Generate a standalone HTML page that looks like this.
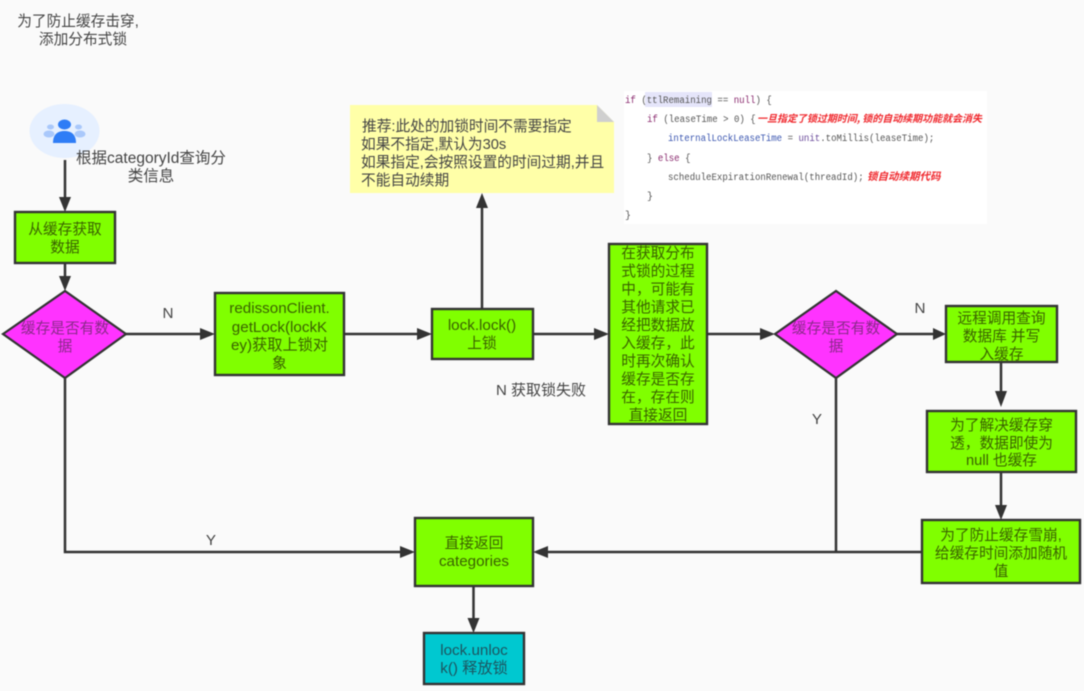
<!DOCTYPE html>
<html lang="zh">
<head>
<meta charset="utf-8">
<style>
html,body{margin:0;padding:0;background:#fafafa;}
body{width:1084px;height:691px;overflow:hidden;}
svg{display:block;filter:blur(0.45px);}
text{font-family:"Liberation Sans","Noto Sans CJK SC",sans-serif;font-size:14.7px;fill:#333;text-anchor:middle;}
.g{fill:#3a6200;}
.l{font-size:15.2px;}
.t{fill:#444;}
.s{text-anchor:start;}
.m{font-family:"Liberation Mono","Noto Sans CJK SC",monospace;font-size:10px;text-anchor:start;}
.r{fill:#f0282d;font-weight:bold;font-style:italic;font-size:10px;text-anchor:start;font-family:"Noto Sans CJK SC",sans-serif;}
.p{fill:#8a2a8a;}
.c{fill:#1c5560;}
.box{fill:#80ff00;stroke:#333;stroke-width:2.4;}
.dia{fill:#ff33ff;stroke:#333;stroke-width:2.2;}
.ln{fill:none;stroke:#333;stroke-width:2.5;}
.ah{fill:#333;}
</style>
</head>
<body>
<svg width="1084" height="691" viewBox="0 0 1084 691" xmlns="http://www.w3.org/2000/svg">
<rect width="1084" height="691" fill="#fafafa"/>

<text class="t" x="78" y="26">为了防止缓存击穿,</text>
<text class="t" x="83" y="44">添加分布式锁</text>

<!-- avatar -->
<ellipse cx="64.500" cy="131" rx="35" ry="27" fill="#e6f0ff"/>
<ellipse cx="50.500" cy="127" rx="3.500" ry="2.500" fill="#a9c8fb"/>
<ellipse cx="78.500" cy="127" rx="3.500" ry="2.500" fill="#a9c8fb"/>
<ellipse cx="49" cy="134" rx="5.500" ry="3.500" fill="#a9c8fb"/>
<ellipse cx="80" cy="134" rx="5.500" ry="3.500" fill="#a9c8fb"/>
<ellipse cx="64.500" cy="124.500" rx="6.500" ry="5" fill="#2f7df6"/>
<path d="M53 143 C53 134 58 131 64.500 131 C71 131 76 134 76 143 Z" fill="#2f7df6"/>

<text class="t" style="font-size:15.500px" x="151" y="163">根据categoryId查询分</text>
<text class="t" style="font-size:15.500px" x="151" y="181">类信息</text>

<!-- connectors -->
<path class="ln" d="M65 160V200"/>
<path class="ah" d="M59 197H71L65 212Z"/>
<path class="ln" d="M65 263V280"/>
<path class="ah" d="M59 276H71L65 291Z"/>
<path class="ln" d="M126 334H205"/>
<path class="ah" d="M200 328V340L215 334Z"/>
<path class="ln" d="M344 334H422"/>
<path class="ah" d="M417 328V340L432 334Z"/>
<path class="ln" d="M482 308V205"/>
<path class="ah" d="M476 208H488L482 193Z"/>
<path class="ln" d="M533 334H599"/>
<path class="ah" d="M594 328V340L609 334Z"/>
<path class="ln" d="M707 334H765"/>
<path class="ah" d="M760 328V340L775 334Z"/>
<path class="ln" d="M897 334H936"/>
<path class="ah" d="M933 328V340L946 334Z"/>
<path class="ln" d="M1001 362V395"/>
<path class="ah" d="M995 391H1007L1001 407Z"/>
<path class="ln" d="M1001 472V510"/>
<path class="ah" d="M995 505H1007L1001 520Z"/>
<path class="ln" d="M922 552H545"/>
<path class="ah" d="M548 546V558L533 552Z"/>
<path class="ln" d="M836 378V552"/>
<path class="ln" d="M65 378V552H405"/>
<path class="ah" d="M400 546V558L415 552Z"/>
<path class="ln" d="M473.500 586V622"/>
<path class="ah" d="M467.500 618H479.500L473.500 633Z"/>

<!-- labels -->
<text class="t l" x="168" y="318">N</text>
<text class="t l" x="211" y="545">Y</text>
<text class="t" style="font-size:15px" x="541" y="395">N 获取锁失败</text>
<text class="t l" x="817" y="424">Y</text>
<text class="t l" x="920" y="313">N</text>

<!-- note -->
<path d="M350 105H597L614 122V193H350Z" fill="#ffffa8"/>
<path d="M597 105L614 122H597Z" fill="#cfcfcf"/>
<text class="t s" x="362" y="131">推荐:此处的加锁时间不需要指定</text>
<text class="t s" x="361" y="149">如果不指定,默认为30s</text>
<text class="t s" x="361" y="167">如果指定,会按照设置的时间过期,并且</text>
<text class="t s" x="361" y="185">不能自动续期</text>

<!-- code -->
<rect x="624" y="91" width="363" height="133" fill="#ffffff"/>
<rect x="645" y="92" width="67" height="15" fill="#e5e5fa"/>
<text class="m" transform="translate(625 103) scale(.907 1)" x="0" y="0"><tspan fill="#8a2a6e">if</tspan><tspan fill="#555"> (ttlRemaining == </tspan><tspan fill="#8a2a6e">null</tspan><tspan fill="#555">) {</tspan></text>
<text class="m" transform="translate(647 122) scale(.907 1)" x="0" y="0"><tspan fill="#8a2a6e">if</tspan><tspan fill="#555"> (leaseTime &gt; 0) {</tspan></text>
<text class="r" x="757" y="122" textLength="225" lengthAdjust="spacingAndGlyphs">一旦指定了锁过期时间, 锁的自动续期功能就会消失</text>
<text class="m" transform="translate(668 141) scale(.907 1)" x="0" y="0"><tspan fill="#3b56b0">internalLockLeaseTime</tspan><tspan fill="#555"> = </tspan><tspan fill="#6a4a9a">unit</tspan><tspan fill="#555">.toMillis(leaseTime);</tspan></text>
<text class="m" transform="translate(647 161) scale(.907 1)" x="0" y="0"><tspan fill="#555">} </tspan><tspan fill="#8a2a6e">else</tspan><tspan fill="#555"> {</tspan></text>
<text class="m" transform="translate(668 180) scale(.907 1)" x="0" y="0" style="fill:#555">scheduleExpirationRenewal(threadId);</text>
<text class="r" style="font-size:10.500px" x="867" y="180">锁自动续期代码</text>
<text class="m" x="647" y="199" style="fill:#555">}</text>
<text class="m" x="625" y="218" style="fill:#555">}</text>

<!-- boxes -->
<rect class="box" x="15" y="212" width="100" height="51"/>
<text class="g" x="65" y="234">从缓存获取</text>
<text class="g" x="65" y="252">数据</text>

<polygon class="dia" points="3,334 65,291 126,334 65,378"/>
<text class="p" x="65" y="333">缓存是否有数</text>
<text class="p" x="65" y="351">据</text>

<rect class="box" x="215" y="293" width="129" height="82"/>
<text class="g l" x="279.500" y="313">redissonClient.</text>
<text class="g l" x="279.500" y="332">getLock(lockK</text>
<text class="g l" x="279.500" y="350">ey)获取上锁对</text>
<text class="g" x="279.500" y="368">象</text>

<rect class="box" x="432" y="309" width="101" height="50"/>
<text class="g l" x="482" y="330">lock.lock()</text>
<text class="g" x="482" y="348">上锁</text>

<rect class="box" x="609" y="244" width="98" height="180"/>
<text class="g" x="658" y="258">在获取分布</text>
<text class="g" x="658" y="276">式锁的过程</text>
<text class="g" x="658" y="294">中，可能有</text>
<text class="g" x="658" y="312">其他请求已</text>
<text class="g" x="658" y="330">经把数据放</text>
<text class="g" x="658" y="348">入缓存，此</text>
<text class="g" x="658" y="366">时再次确认</text>
<text class="g" x="658" y="384">缓存是否存</text>
<text class="g" x="658" y="402">在，存在则</text>
<text class="g" x="658" y="420">直接返回</text>

<polygon class="dia" points="775,334 836,291 897,334 836,378"/>
<text class="p" x="836" y="333">缓存是否有数</text>
<text class="p" x="836" y="351">据</text>

<rect class="box" x="946" y="306" width="111" height="56"/>
<text class="g" x="1001.500" y="323">远程调用查询</text>
<text class="g" x="1001.500" y="341">数据库 并写</text>
<text class="g" x="1001.500" y="359">入缓存</text>

<rect class="box" x="927" y="411" width="149" height="61"/>
<text class="g" x="1001.500" y="430">为了解决缓存穿</text>
<text class="g" x="1001.500" y="448">透，数据即使为</text>
<text class="g" x="1001.500" y="465">null 也缓存</text>

<rect class="box" x="922" y="520" width="158" height="63"/>
<text class="g" x="1001" y="540">为了防止缓存雪崩,</text>
<text class="g" x="1001" y="558">给缓存时间添加随机</text>
<text class="g" x="1001" y="576">值</text>

<rect class="box" x="415" y="518" width="118" height="68"/>
<text class="g" x="474" y="548">直接返回</text>
<text class="g l" x="474" y="566">categories</text>

<rect x="424" y="633" width="100" height="51" fill="#00c8d0" stroke="#333" stroke-width="2.4"/>
<text class="c l" x="474" y="655">lock.unloc</text>
<text class="c l" x="474" y="673">k() 释放锁</text>
</svg>
</body>
</html>
